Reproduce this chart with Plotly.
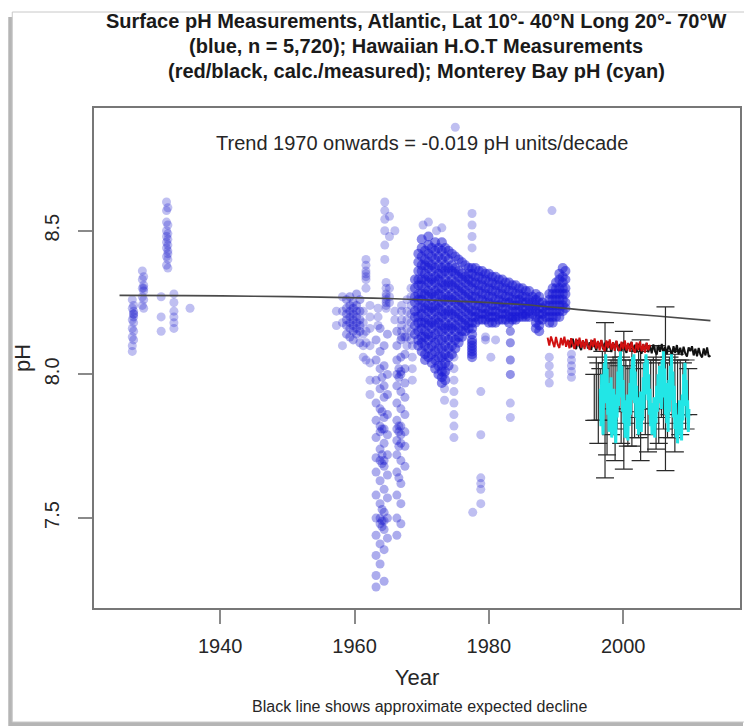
import numpy as np
import plotly.graph_objects as go

# ---------------- data ----------------
# Atlantic surface pH: (year, [pH values]) columns, sparse scatter
atlantic_sparse = [
    (1926.9, [8.26, 8.23, 8.19, 8.16, 8.13, 8.10, 8.08]),
    (1927.1, [8.24, 8.22, 8.21, 8.21, 8.20, 8.18, 8.15, 8.12]),
    (1928.4, [8.36, 8.33, 8.30, 8.27, 8.24]),
    (1928.6, [8.34, 8.31, 8.30, 8.29, 8.26, 8.23]),
    (1931.2, [8.27, 8.20, 8.15]),
    (1932.0, [8.60, 8.57, 8.53, 8.50, 8.48, 8.46, 8.44, 8.41, 8.38]),
    (1932.2, [8.58, 8.52, 8.49, 8.47, 8.45, 8.43, 8.42, 8.40, 8.37]),
    (1933.1, [8.28, 8.25, 8.22, 8.20, 8.18, 8.16]),
    (1935.5, [8.23]),
    (1957.3, [8.22, 8.17]),
    (1958.2, [8.27, 8.22, 8.18, 8.10]),
    (1961.3, [8.22, 8.18, 8.14, 8.10, 8.06]),
    (1961.7, [8.40, 8.38, 8.36, 8.35, 8.34, 8.33, 8.30, 8.15, 8.11, 8.05]),
    (1962.3, [8.24, 8.20, 8.16, 8.10, 8.04, 7.98, 7.93]),
    (1963.5, [8.23, 8.20, 8.17]),
    (1964.5, [8.60, 8.57, 8.54, 8.50, 8.45, 8.40]),
    (1964.7, [8.32, 8.30, 8.28, 8.27, 8.26, 8.25, 8.24, 8.23]),
    (1965.2, [8.55, 8.48, 8.30, 8.27, 8.25]),
    (1966.0, [8.50, 8.22, 8.19]),
    (1967.0, [8.24, 8.22, 8.19, 8.17, 8.15, 8.13]),
    (1967.8, [8.26, 8.22, 8.19, 8.16, 8.13, 8.10]),
    (1968.4, [8.30, 8.27, 8.24, 8.21, 8.18, 8.15, 8.12]),
    (1968.6, [8.10, 8.06, 8.02, 7.98]),
    (1970.2, [8.52]), (1971.0, [8.53]), (1972.2, [8.50]), (1973.0, [8.51]),
    (1973.4, [8.06, 8.00, 7.95, 7.91]),
    (1974.8, [8.06, 8.02, 7.98, 7.94, 7.90, 7.86, 7.82, 7.78]),
    (1975.0, [8.86]),
    (1977.5, [8.56, 8.52, 8.48, 8.44]),
    (1977.6, [7.52]),
    (1978.8, [7.94, 7.79, 7.64, 7.62, 7.60, 7.55]),
    (1979.5, [8.13, 8.12]),
    (1980.3, [8.06]),
    (1981.0, [8.12]),
    (1983.2, [8.15, 8.15, 8.11, 8.11, 8.05, 8.05, 8.00, 8.00, 7.90, 7.85]),
    (1989.0, [8.06, 8.03, 8.00, 7.97]),
    (1989.4, [8.57]),
    (1992.3, [8.07, 8.05, 8.03, 8.01, 7.99]),
]

# Atlantic surface pH: the two low-pH columns of the 1960s and the 1959-61 cluster
atlantic_medium = [
    (1958.8, [8.26, 8.23, 8.21, 8.19, 8.17, 8.14]),
    (1959.3, [8.27, 8.24, 8.22, 8.20, 8.18, 8.16, 8.13]),
    (1959.8, [8.25, 8.23, 8.21, 8.19, 8.17, 8.15, 8.12]),
    (1960.3, [8.28, 8.24, 8.22, 8.20, 8.18, 8.16, 8.14]),
    (1960.8, [8.26, 8.22, 8.19, 8.17, 8.15, 8.11]),
    (1963.2, [8.12, 8.05, 7.98, 7.90, 7.84, 7.78, 7.71, 7.66, 7.58, 7.50, 7.44, 7.37, 7.30, 7.26]),
    (1963.8, [8.16, 8.08, 8.02, 7.95, 7.88, 7.82, 7.80, 7.74, 7.70, 7.63, 7.55, 7.50, 7.48, 7.41, 7.34]),
    (1964.1, [7.99, 7.87, 7.81, 7.72, 7.69, 7.53, 7.49, 7.47]),
    (1964.4, [8.10, 8.03, 7.96, 7.92, 7.85, 7.81, 7.76, 7.70, 7.68, 7.60, 7.52, 7.49, 7.46, 7.39, 7.28]),
    (1964.9, [8.14, 8.00, 7.93, 7.86, 7.79, 7.72, 7.65, 7.57, 7.50, 7.43]),
    (1966.3, [8.15, 8.10, 8.05, 8.00, 7.96, 7.90, 7.84, 7.81, 7.77, 7.72, 7.66, 7.58, 7.50, 7.44]),
    (1966.6, [8.02, 7.99, 7.82, 7.80, 7.75, 7.64]),
    (1966.9, [8.12, 8.06, 8.01, 8.00, 7.94, 7.88, 7.82, 7.79, 7.76, 7.70, 7.62, 7.55, 7.48]),
    (1967.5, [8.13, 8.07, 8.02, 7.97, 7.92, 7.86, 7.80, 7.75, 7.68]),
]

# Atlantic surface pH: dense cloud 1969-1991
atlantic_dense = [
    (1969.0, [8.33, 8.30, 8.27, 8.25, 8.22, 8.20, 8.17, 8.14]),
    (1969.5, [8.42, 8.39, 8.36, 8.33, 8.31, 8.28, 8.26, 8.23, 8.20, 8.18, 8.15, 8.12, 8.10]),
    (1970.0, [8.47, 8.44, 8.41, 8.38, 8.36, 8.33, 8.31, 8.28, 8.26, 8.23, 8.21, 8.18, 8.16, 8.13, 8.11, 8.08]),
    (1970.5, [8.43, 8.40, 8.38, 8.35, 8.33, 8.30, 8.28, 8.25, 8.23, 8.20, 8.18, 8.15, 8.13, 8.10, 8.07, 8.05]),
    (1971.0, [8.48, 8.45, 8.42, 8.39, 8.37, 8.34, 8.32, 8.29, 8.27, 8.24, 8.22, 8.19, 8.17, 8.14, 8.12, 8.09, 8.06]),
    (1971.5, [8.44, 8.41, 8.38, 8.36, 8.33, 8.31, 8.28, 8.26, 8.23, 8.21, 8.18, 8.16, 8.13, 8.10, 8.07, 8.04]),
    (1972.0, [8.46, 8.43, 8.40, 8.37, 8.34, 8.32, 8.29, 8.27, 8.24, 8.22, 8.19, 8.17, 8.14, 8.11, 8.08, 8.05, 8.02]),
    (1972.5, [8.44, 8.41, 8.38, 8.35, 8.33, 8.30, 8.28, 8.25, 8.23, 8.20, 8.18, 8.15, 8.12, 8.09, 8.06, 8.03, 8.00]),
    (1973.0, [8.46, 8.43, 8.40, 8.37, 8.35, 8.32, 8.30, 8.27, 8.25, 8.22, 8.20, 8.17, 8.15, 8.12, 8.09, 8.06, 8.03, 8.01, 7.99, 7.97]),
    (1973.5, [8.44, 8.41, 8.38, 8.36, 8.33, 8.31, 8.28, 8.26, 8.23, 8.21, 8.18, 8.16, 8.13, 8.10, 8.07, 8.04, 8.01, 7.98]),
    (1974.0, [8.43, 8.40, 8.37, 8.35, 8.32, 8.30, 8.27, 8.25, 8.22, 8.20, 8.17, 8.15, 8.12, 8.09, 8.06, 8.03]),
    (1974.5, [8.42, 8.38, 8.36, 8.33, 8.31, 8.28, 8.26, 8.23, 8.21, 8.18, 8.16, 8.13, 8.10, 8.07]),
    (1975.0, [8.41, 8.37, 8.35, 8.32, 8.30, 8.27, 8.25, 8.22, 8.20, 8.17, 8.15, 8.12, 8.09]),
    (1975.5, [8.40, 8.36, 8.34, 8.31, 8.29, 8.26, 8.24, 8.21, 8.19, 8.16, 8.13, 8.11]),
    (1976.0, [8.39, 8.35, 8.33, 8.30, 8.28, 8.25, 8.23, 8.20, 8.18, 8.15, 8.13]),
    (1976.5, [8.38, 8.34, 8.32, 8.29, 8.27, 8.24, 8.22, 8.19, 8.17, 8.15]),
    (1977.0, [8.37, 8.35, 8.33, 8.31, 8.28, 8.26, 8.23, 8.21, 8.18, 8.16]),
    (1977.5, [8.37, 8.35, 8.32, 8.30, 8.27, 8.25, 8.22, 8.20, 8.18, 8.16, 8.14, 8.12, 8.11, 8.10, 8.09, 8.08, 8.07, 8.06]),
    (1978.0, [8.37, 8.34, 8.32, 8.29, 8.27, 8.24, 8.22, 8.20, 8.18]),
    (1978.5, [8.36, 8.34, 8.31, 8.29, 8.26, 8.24, 8.21, 8.19]),
    (1979.0, [8.36, 8.33, 8.31, 8.28, 8.26, 8.23, 8.21, 8.19]),
    (1979.5, [8.35, 8.33, 8.30, 8.28, 8.25, 8.23, 8.21, 8.19]),
    (1980.0, [8.35, 8.32, 8.30, 8.27, 8.25, 8.22, 8.20, 8.18]),
    (1980.5, [8.34, 8.32, 8.29, 8.27, 8.24, 8.22, 8.20, 8.18]),
    (1981.0, [8.34, 8.31, 8.29, 8.26, 8.24, 8.22, 8.20, 8.18]),
    (1981.5, [8.33, 8.31, 8.28, 8.26, 8.24, 8.21, 8.19]),
    (1982.0, [8.33, 8.30, 8.28, 8.25, 8.23, 8.21, 8.19]),
    (1982.5, [8.32, 8.30, 8.27, 8.25, 8.23, 8.21, 8.19]),
    (1983.0, [8.32, 8.29, 8.27, 8.25, 8.22, 8.20, 8.18]),
    (1983.5, [8.31, 8.29, 8.26, 8.24, 8.22, 8.20, 8.19]),
    (1984.0, [8.31, 8.28, 8.26, 8.24, 8.22, 8.20, 8.19]),
    (1984.5, [8.30, 8.28, 8.26, 8.24, 8.22, 8.20]),
    (1985.0, [8.30, 8.27, 8.25, 8.23, 8.21, 8.20]),
    (1985.5, [8.29, 8.27, 8.25, 8.23, 8.21, 8.20]),
    (1986.0, [8.29, 8.26, 8.24, 8.22, 8.20]),
    (1986.5, [8.27, 8.25, 8.23, 8.21]),
    (1987.0, [8.28, 8.26, 8.24, 8.22, 8.20, 8.18, 8.16]),
    (1987.5, [8.27, 8.25, 8.23, 8.21, 8.19, 8.17, 8.15]),
    (1988.0, [8.25, 8.23, 8.21, 8.19]),
    (1988.5, [8.24, 8.22, 8.20]),
    (1989.0, [8.28, 8.26, 8.24, 8.22, 8.20, 8.18]),
    (1989.5, [8.30, 8.28, 8.26, 8.24, 8.22, 8.20, 8.18]),
    (1990.0, [8.32, 8.30, 8.28, 8.26, 8.24, 8.22, 8.20]),
    (1990.5, [8.35, 8.33, 8.30, 8.28, 8.26, 8.24, 8.22, 8.20]),
    (1991.0, [8.37, 8.34, 8.32, 8.30, 8.28, 8.26, 8.24, 8.22]),
    (1991.4, [8.36, 8.33, 8.30, 8.28, 8.25, 8.23]),
]

# Expected decline (black line)
trend_year = [1925, 1935, 1945, 1955, 1965, 1975, 1985, 1995, 2005, 2013]
trend_ph = [8.275, 8.274, 8.272, 8.269, 8.264, 8.255, 8.243, 8.222, 8.203, 8.187]

# Hawaii HOT calculated (red), quarterly from 1988.75
hot_calc_start = 1988.75
hot_calc_ph = [8.128, 8.100, 8.132, 8.108, 8.095, 8.130, 8.104, 8.092, 8.127, 8.101,
               8.131, 8.096, 8.121, 8.091, 8.126, 8.103, 8.089, 8.124, 8.099, 8.128,
               8.093, 8.119, 8.088, 8.123, 8.098, 8.085, 8.121, 8.095, 8.125, 8.090,
               8.116, 8.084, 8.120, 8.094, 8.081, 8.118, 8.092, 8.122, 8.086, 8.112,
               8.082, 8.117, 8.090, 8.078, 8.114, 8.088, 8.118, 8.083, 8.109, 8.079,
               8.113, 8.087, 8.075, 8.111, 8.085, 8.115, 8.080, 8.106, 8.076, 8.110,
               8.084, 8.103]

# Hawaii HOT measured (black), quarterly from 1992.0
hot_meas_start = 1992.0
hot_meas_ph = [8.118, 8.094, 8.124, 8.100, 8.088, 8.120, 8.097, 8.085, 8.117, 8.095, 8.122, 8.090,
               8.112, 8.085, 8.118, 8.096, 8.083, 8.115, 8.092, 8.119, 8.087, 8.110, 8.082, 8.114,
               8.100, 8.078, 8.112, 8.089, 8.116, 8.083, 8.106, 8.079, 8.111, 8.087, 8.075, 8.108,
               8.095, 8.113, 8.080, 8.103, 8.076, 8.107, 8.084, 8.072, 8.105, 8.082, 8.109, 8.077,
               8.100, 8.073, 8.104, 8.081, 8.069, 8.102, 8.079, 8.106, 8.074, 8.096, 8.070, 8.100,
               8.087, 8.066, 8.098, 8.075, 8.102, 8.070, 8.093, 8.066, 8.096, 8.073, 8.062, 8.094,
               8.081, 8.098, 8.066, 8.089, 8.063, 8.092, 8.069, 8.059, 8.090, 8.066, 8.094, 8.061,
               8.066]

# Monterey Bay pH (cyan), every 0.1 yr from 1996.6
monterey_start = 1996.6
monterey_ph = [7.95, 7.82, 8.00, 7.88, 7.79, 7.96, 8.04, 7.90, 8.07, 7.93,
               8.02, 7.86, 7.97, 7.80, 7.92, 7.84, 7.99, 7.78, 7.90, 7.83,
               7.95, 7.79, 7.87, 7.76, 7.93, 7.85, 8.01, 7.89, 8.06, 7.94,
               8.08, 7.92, 8.03, 7.87, 7.98, 7.83, 7.91, 7.78, 7.86, 7.80,
               7.93, 7.77, 7.89, 7.82, 7.97, 7.86, 8.02, 7.91, 8.06, 7.95,
               8.07, 7.90, 8.01, 7.85, 7.96, 7.81, 7.92, 7.79, 7.88, 7.83,
               7.94, 7.80, 7.90, 7.84, 7.99, 7.88, 8.04, 7.93, 8.07, 7.96,
               8.05, 7.91, 8.00, 7.86, 7.95, 7.82, 7.90, 7.79, 7.87, 7.81,
               7.92, 7.78, 7.88, 7.83, 7.96, 7.87, 8.00, 7.90, 8.03, 7.94,
               7.99, 7.88, 8.05, 7.92, 8.08, 7.95, 8.02, 7.86, 7.97, 7.83,
               7.93, 7.80, 7.98, 7.87, 8.03, 7.91, 8.07, 7.94, 8.01, 7.85,
               7.96, 7.81, 7.90, 7.78, 7.86, 7.76, 7.84, 7.79, 7.91, 7.82,
               7.87, 7.77, 7.93, 7.84, 8.00, 7.89, 8.04, 7.92, 7.98, 7.85,
               7.91, 7.80, 7.88]

# Monterey Bay error bars (black)
err_year = [1995.7, 1996.0, 1996.3, 1996.6, 1996.9, 1997.3, 1997.6, 1997.9, 1998.2, 1998.5,
            1998.8, 1999.1, 1999.4, 1999.7, 2000.1, 2000.4, 2000.7, 2001.0, 2001.3, 2001.7,
            2002.0, 2002.3, 2002.6, 2003.0, 2003.3, 2003.7, 2004.1, 2004.5, 2004.9, 2005.3,
            2005.7, 2006.0, 2006.3, 2006.6, 2006.9, 2007.3, 2007.7, 2008.1, 2008.5, 2008.9,
            2009.3, 2009.7]
err_center = [7.92, 7.95, 7.90, 7.93, 7.96, 7.91, 7.88, 7.94, 7.92, 7.97,
              7.90, 7.93, 7.95, 7.91, 7.91, 7.94, 7.89, 7.96, 7.92, 7.90,
              7.95, 7.93, 7.91, 7.96, 7.92, 7.89, 7.94, 7.97, 7.92, 7.90,
              7.95, 7.93, 7.95, 7.91, 7.96, 7.93, 7.90, 7.94, 7.92, 7.95,
              7.93, 7.94]
err_half = [0.08, 0.11, 0.14, 0.09, 0.12, 0.27, 0.16, 0.10, 0.13, 0.09,
            0.20, 0.12, 0.08, 0.15, 0.24, 0.11, 0.14, 0.09, 0.17, 0.12,
            0.10, 0.15, 0.21, 0.08, 0.13, 0.16, 0.11, 0.09, 0.18, 0.14,
            0.10, 0.12, 0.285, 0.13, 0.10, 0.15, 0.17, 0.11, 0.13, 0.09,
            0.12, 0.08]

x_ticks = [1940, 1960, 1980, 2000]
y_ticks = [7.5, 8.0, 8.5]
y_ticktext = ["7.5", "8.0", "8.5"]

title_lines = [
    "Surface pH Measurements, Atlantic, Lat 10°- 40°N Long 20°- 70°W",
    "(blue, n = 5,720); Hawaiian H.O.T Measurements",
    "(red/black, calc./measured); Monterey Bay pH (cyan)",
]
trend_text = "Trend 1970 onwards = -0.019 pH units/decade"
caption = "Black line shows approximate expected decline"

# ---------------- build ----------------
def flatten(cols):
    xs, ys = [], []
    for yr, vals in cols:
        for v in vals:
            xs.append(yr)
            ys.append(v)
    return xs, ys

sx, sy = flatten(atlantic_sparse)
mx, my = flatten(atlantic_medium)
dx, dy = flatten(atlantic_dense)
calc_year = hot_calc_start + 0.25 * np.arange(len(hot_calc_ph))
meas_year = hot_meas_start + 0.25 * np.arange(len(hot_meas_ph))
mont_year = monterey_start + 0.1 * np.arange(len(monterey_ph))

# the page body adds an 8 px margin, so the figure is 8 px smaller
W, H = 744, 719
L, R, T, B = 86, 734, 100, 600
pw, ph_ = R - L, B - T

def px(xp):
    return (xp - L) / pw

def py(yp):
    return (B - yp) / ph_

FONT = "Liberation Sans, Arial, Helvetica, sans-serif"
TXT = "#262626"

fig = go.Figure()
fig.add_trace(go.Scatter(x=sx, y=sy, mode="markers",
                         marker=dict(size=9, color="rgba(25,25,205,0.28)", line=dict(width=0)),
                         hoverinfo="skip", showlegend=False))
fig.add_trace(go.Scatter(x=mx, y=my, mode="markers",
                         marker=dict(size=9, color="rgba(25,25,205,0.36)", line=dict(width=0)),
                         hoverinfo="skip", showlegend=False))
fig.add_trace(go.Scatter(x=dx, y=dy, mode="markers",
                         marker=dict(size=10, color="rgba(25,25,212,0.52)", line=dict(width=0)),
                         hoverinfo="skip", showlegend=False))
fig.add_trace(go.Scatter(x=trend_year, y=trend_ph, mode="lines", line=dict(color="#4a4a4a", width=1.6),
                         line_shape="spline", showlegend=False))
fig.add_trace(go.Scatter(x=err_year, y=err_center, mode="markers",
                         marker=dict(size=1, color="rgba(0,0,0,0)"),
                         error_y=dict(type="data", array=err_half, color="#2a2a2a", thickness=1.2, width=9),
                         showlegend=False))
fig.add_trace(go.Scatter(x=meas_year, y=hot_meas_ph, mode="lines", line=dict(color="#111111", width=2),
                         showlegend=False))
fig.add_trace(go.Scatter(x=calc_year, y=hot_calc_ph, mode="lines", line=dict(color="#d01010", width=2),
                         showlegend=False))
fig.add_trace(go.Scatter(x=mont_year, y=monterey_ph, mode="lines", line=dict(color="#22e6e6", width=3),
                         showlegend=False))

shapes = [
    # drop shadow of the card
    dict(type="rect", xref="paper", yref="paper", layer="below",
         x0=px(0), x1=px(737), y0=py(718), y1=py(9),
         fillcolor="#b5b5b5", line=dict(width=0)),
    dict(type="rect", xref="paper", yref="paper", layer="below",
         x0=px(4), x1=px(740), y0=py(714), y1=py(4),
         fillcolor="white", line=dict(color="#c8c8c8", width=1)),
]

annotations = []
for i, t in enumerate(title_lines):
    annotations.append(dict(text="<b>%s</b>" % t, xref="paper", yref="paper",
                            x=px(409), y=py(13 + 25 * i), showarrow=False,
                            xanchor="center", yanchor="middle",
                            font=dict(family=FONT, size=20, color="#1a1a1a")))
annotations.append(dict(text=trend_text, xref="paper", yref="paper", x=px(415.5), y=py(135),
                        showarrow=False, xanchor="center", yanchor="middle",
                        font=dict(family=FONT, size=20, color=TXT)))
annotations.append(dict(text=caption, xref="paper", yref="paper", x=px(413), y=py(698),
                        showarrow=False, xanchor="center", yanchor="middle",
                        font=dict(family=FONT, size=16, color=TXT)))

fig.update_layout(
    width=W, height=H,
    margin=dict(l=L, r=W - R, t=T, b=H - B, pad=0),
    paper_bgcolor="white", plot_bgcolor="rgba(0,0,0,0)",
    shapes=shapes, annotations=annotations,
    font=dict(family=FONT, color=TXT),
)
fig.update_xaxes(range=[1921.2, 2017.4], tickvals=x_ticks, ticks="outside", ticklen=14, tickwidth=2,
                 tickcolor="#8a8a8a", showline=True, linecolor="#777777", linewidth=2, mirror=True,
                 showgrid=False, zeroline=False, tickfont=dict(size=20, color=TXT),
                 ticklabelstandoff=5,
                 title=dict(text="Year", font=dict(size=22, color=TXT), standoff=14))
fig.update_yaxes(range=[7.187, 8.927], tickvals=y_ticks, ticktext=y_ticktext, ticks="outside", ticklen=14,
                 tickwidth=2, tickcolor="#8a8a8a", showline=True, linecolor="#777777", linewidth=2,
                 mirror=True, showgrid=False, zeroline=False, tickangle=-90,
                 tickfont=dict(size=20, color=TXT), ticklabelstandoff=11,
                 title=dict(text="pH", font=dict(size=22, color=TXT), standoff=4))

fig.write_html("out.html")
